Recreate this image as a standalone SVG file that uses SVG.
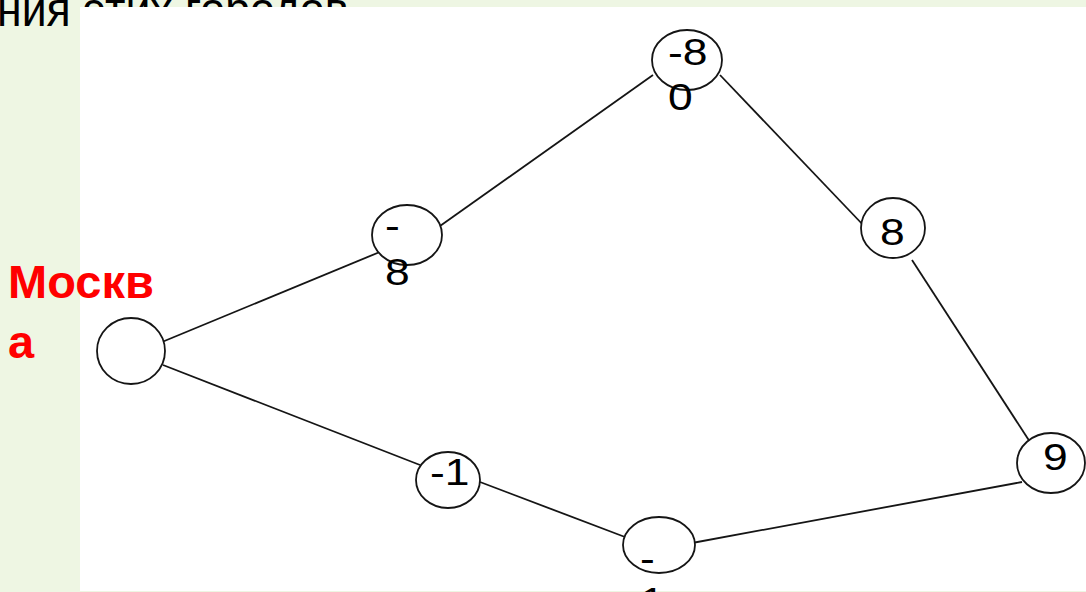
<svg xmlns="http://www.w3.org/2000/svg" width="1086" height="592" viewBox="0 0 1086 592">
  <style>
    .node { fill: #ffffff; stroke: #151515; stroke-width: 1.8; }
    .edge { stroke: #151515; stroke-width: 1.8; fill: none; }
    .lbl { font-family: "Liberation Sans", Arial, sans-serif; font-size: 37px; fill: #000000; }
    .city { font-family: "Liberation Sans", Arial, sans-serif; font-size: 47px; font-weight: bold; fill: #ff0000; }
    .head { font-family: "Liberation Sans", Arial, sans-serif; font-size: 48px; fill: #000000; }
  </style>

  <!-- slide background -->
  <rect x="0" y="0" width="1086" height="592" fill="#eef6e3"/>
  <text class="head" transform="translate(-3 26) scale(0.93 1)">ния этих городов</text>

  <!-- drawing canvas -->
  <rect x="80" y="7" width="1006" height="584" fill="#ffffff"/>

  <!-- connectors -->
  <g id="edges">
    <line class="edge" x1="162" y1="342" x2="387" y2="249"/>
    <line class="edge" x1="440" y1="226" x2="653" y2="75"/>
    <line class="edge" x1="720" y1="75" x2="866" y2="228"/>
    <line class="edge" x1="912" y1="260" x2="1030" y2="442"/>
    <line class="edge" x1="163" y1="365" x2="420" y2="465"/>
    <line class="edge" x1="480" y1="482" x2="625" y2="537"/>
    <line class="edge" x1="692" y1="543" x2="1022" y2="482"/>
  </g>

  <g id="moscow">
    <ellipse class="node" cx="131" cy="351" rx="34" ry="33"/>
  </g>

  <g id="n-minus8">
    <ellipse class="node" cx="407" cy="235" rx="35" ry="30"/>
    <text class="lbl" transform="translate(385 238) scale(1.2 1)"><tspan x="0" y="0">-</tspan><tspan x="0" dy="47">8</tspan></text>
  </g>

  <g id="n-minus80">
    <ellipse class="node" cx="687" cy="60" rx="35" ry="30"/>
    <text class="lbl" transform="translate(668 65) scale(1.2 1)"><tspan x="0" y="0">-8</tspan><tspan x="0" dy="45">0</tspan></text>
  </g>

  <g id="n-8">
    <ellipse class="node" cx="893" cy="228" rx="32" ry="30"/>
    <text class="lbl" transform="translate(880 245) scale(1.2 1)">8</text>
  </g>

  <g id="n-9">
    <ellipse class="node" cx="1051" cy="463" rx="34" ry="30"/>
    <text class="lbl" transform="translate(1043 470) scale(1.2 1)">9</text>
  </g>

  <g id="n-minus1">
    <ellipse class="node" cx="448" cy="480" rx="32" ry="28"/>
    <text class="lbl" transform="translate(430 485) scale(1.2 1)">-1</text>
  </g>

  <g id="n-minus1-low">
    <ellipse class="node" cx="659" cy="545" rx="36" ry="28"/>
    <text class="lbl" transform="translate(640 571) scale(1.2 1)"><tspan x="0" y="0">-</tspan><tspan x="0" dy="43">1</tspan></text>
  </g>

  <!-- city caption -->
  <text class="city"><tspan x="8" y="298">Москв</tspan><tspan x="8" y="358">а</tspan></text>
</svg>
